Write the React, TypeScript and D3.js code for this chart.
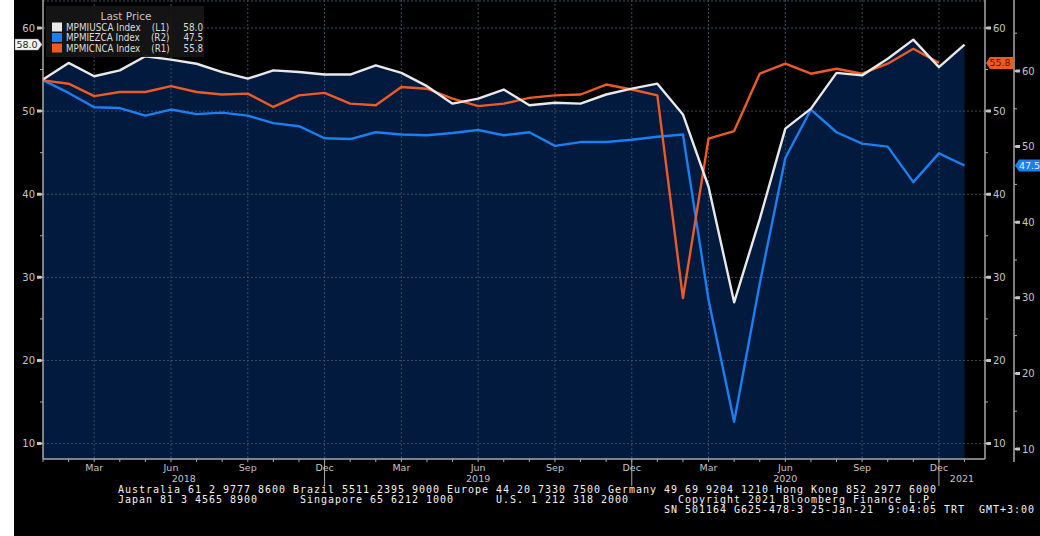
import React from "react";
import * as d3 from "d3";

// Monthly data Jan 2018 .. Jan 2021
const startYear = 2018;
const usaComposite = [53.8, 55.8, 54.2, 54.9, 56.6, 56.2, 55.7, 54.7, 53.9, 54.9, 54.7, 54.4,
  54.4, 55.5, 54.6, 53.0, 50.9, 51.5, 52.6, 50.7, 51.0, 50.9, 52.0, 52.7,
  53.3, 49.6, 40.9, 27.0, 37.0, 47.9, 50.3, 54.6, 54.3, 56.3, 58.6, 55.3,
  58.0];
const euroComposite = [58.8, 57.1, 55.2, 55.1, 54.1, 54.9, 54.3, 54.5, 54.1, 53.1, 52.7, 51.1,
  51.0, 51.9, 51.6, 51.5, 51.8, 52.2, 51.5, 51.9, 50.1, 50.6, 50.6, 50.9,
  51.3, 51.6, 29.7, 13.6, 31.9, 48.5, 54.9, 51.9, 50.4, 50.0, 45.3, 49.1,
  47.5];
const chinaComposite = [53.7, 53.3, 51.8, 52.3, 52.3, 53.0, 52.3, 52.0, 52.1, 50.5, 51.9, 52.2,
  50.9, 50.7, 52.9, 52.7, 51.5, 50.6, 50.9, 51.6, 51.9, 52.0, 53.2, 52.6,
  51.9, 27.5, 46.7, 47.6, 54.5, 55.7, 54.5, 55.1, 54.5, 55.7, 57.5, 55.8];

const seriesNames = ["MPMIUSCA Index", "MPMIEZCA Index", "MPMICNCA Index"];
const seriesAxes = ["(L1)", "(R2)", "(R1)"];
const seriesLast = ["58.0", "47.5", "55.8"];
const monthNames = ["Jan", "Feb", "Mar", "Apr", "May", "Jun", "Jul", "Aug", "Sep", "Oct", "Nov", "Dec"];
const majorTicks = [10, 20, 30, 40, 50, 60];
const minorTicksL = [15, 25, 35, 45, 55];
const minorTicksR2 = [15, 25, 35, 45, 55, 65];
const footerLines = [
  "Australia 61 2 9777 8600 Brazil 5511 2395 9000 Europe 44 20 7330 7500 Germany 49 69 9204 1210 Hong Kong 852 2977 6000",
  "Japan 81 3 4565 8900      Singapore 65 6212 1000      U.S. 1 212 318 2000       Copyright 2021 Bloomberg Finance L.P.",
  "                                                                              SN 501164 G625-478-3 25-Jan-21  9:04:05 TRT  GMT+3:00",
];

const WHITE = "#e9e9e9";
const BLUE = "#1a7ff0";
const ORANGE = "#ec5b24";
const NAVY = "#011a3e";
const AXIS = "#a8a8a8";
const LABEL = "#c4c4c4";
const GRID = "#3d4c5e";

export default function App() {
  const left = 43, right = 985, r2x = 1014, top = 0, bottom = 459;
  const x = d3.scaleLinear().domain([0, 36.8]).range([left, right]);
  const yL = d3.scaleLinear().domain([10, 60]).range([443.6, 28]);
  const yR2 = d3.scaleLinear().domain([10, 60]).range([449, 71]);

  const lineL = d3.line<number>().x((_, i) => x(i)).y((d) => yL(d));
  const lineR2 = d3.line<number>().x((_, i) => x(i)).y((d) => yR2(d));
  const area = d3.area<number>().x((_, i) => x(i)).y0(bottom).y1((d) => yL(d));

  const nMonths = 37;
  const months = d3.range(nMonths);
  const quarterMonths = months.filter((i) => i % 3 === 2);
  const yearBreaks = months.filter((i) => i % 12 === 11);
  const years = [0, 1, 2, 3].map((k) => {
    const a = k === 0 ? 0 : 12 * k - 1;
    const b = Math.min(12 * k + 11, 36.8);
    return { label: String(startYear + k), cx: (x(a) + x(b)) / 2 };
  });

  const font = "'DejaVu Sans', sans-serif";
  const legendColors = [WHITE, BLUE, ORANGE];

  return (
    <svg width={1040} height={536} style={{ position: "absolute", left: 0, top: 0 }} fontFamily={font}>
      <rect x={0} y={0} width={1040} height={536} fill="#ffffff" />
      <rect x={14} y={0} width={1026} height={536} fill="#000000" />

      {/* area under US line */}
      <path d={area(usaComposite) || ""} fill={NAVY} />

      {/* grid */}
      <line x1={left} x2={right} y1={1} y2={1} stroke={GRID} strokeDasharray="2,2" />
      {majorTicks.map((t) => (
        <line key={"hg" + t} x1={left} x2={right} y1={yL(t)} y2={yL(t)} stroke={GRID} strokeDasharray="2,2" />
      ))}
      {quarterMonths.map((i) => (
        <line key={"vg" + i} x1={x(i)} x2={x(i)} y1={top} y2={bottom} stroke={GRID} strokeDasharray="2,2" />
      ))}

      {/* series */}
      <path d={lineR2(euroComposite) || ""} fill="none" stroke={BLUE} strokeWidth={2.4} strokeLinejoin="round" />
      <path d={lineL(chinaComposite) || ""} fill="none" stroke={ORANGE} strokeWidth={2.4} strokeLinejoin="round" />
      <path d={lineL(usaComposite) || ""} fill="none" stroke={WHITE} strokeWidth={2.4} strokeLinejoin="round" />

      {/* axes lines */}
      <line x1={left} x2={left} y1={top} y2={bottom} stroke={AXIS} strokeWidth={1.5} />
      <line x1={left} x2={right} y1={bottom} y2={bottom} stroke={AXIS} strokeWidth={1.5} />
      <line x1={right} x2={right} y1={top} y2={bottom} stroke={AXIS} strokeWidth={1.5} />
      <line x1={r2x} x2={r2x} y1={top} y2={462} stroke={AXIS} strokeWidth={1.5} />

      {/* left axis L1 */}
      {majorTicks.map((t) => (
        <g key={"l" + t}>
          <path d={`M${left - 6},${yL(t) - 1.5}L${left - 2},${yL(t) - 1.5}L${left},${yL(t)}L${left - 2},${yL(t) + 1.5}L${left - 6},${yL(t) + 1.5}Z`} fill={LABEL} />
          <text x={left - 8} y={yL(t)} dy="0.35em" textAnchor="end" fontSize={10} fill={LABEL}>{t}</text>
        </g>
      ))}
      {minorTicksL.map((t) => (
        <line key={"lm" + t} x1={left - 3} x2={left} y1={yL(t)} y2={yL(t)} stroke={AXIS} />
      ))}

      {/* right axis R1 */}
      {majorTicks.map((t) => (
        <g key={"r1" + t}>
          <path d={`M${right},${yL(t)}L${right + 2},${yL(t) - 1.5}L${right + 6},${yL(t) - 1.5}L${right + 6},${yL(t) + 1.5}L${right + 2},${yL(t) + 1.5}Z`} fill={LABEL} />
          <text x={right + 8} y={yL(t)} dy="0.35em" fontSize={10} fill={LABEL}>{t}</text>
        </g>
      ))}
      {minorTicksL.map((t) => (
        <line key={"r1m" + t} x1={right} x2={right + 3} y1={yL(t)} y2={yL(t)} stroke={AXIS} />
      ))}

      {/* right axis R2 */}
      {majorTicks.map((t) => (
        <g key={"r2" + t}>
          <path d={`M${r2x},${yR2(t)}L${r2x + 2},${yR2(t) - 1.5}L${r2x + 6},${yR2(t) - 1.5}L${r2x + 6},${yR2(t) + 1.5}L${r2x + 2},${yR2(t) + 1.5}Z`} fill={LABEL} />
          <text x={r2x + 8} y={yR2(t)} dy="0.35em" fontSize={10} fill={LABEL}>{t}</text>
        </g>
      ))}
      {minorTicksR2.map((t) => (
        <line key={"r2m" + t} x1={r2x} x2={r2x + 3} y1={yR2(t)} y2={yR2(t)} stroke={AXIS} />
      ))}

      {/* bottom axis */}
      {months.map((i) => (
        <line key={"bt" + i} x1={x(i)} x2={x(i)} y1={bottom} y2={bottom + 3} stroke={AXIS} />
      ))}
      {yearBreaks.map((i) => (
        <line key={"yb" + i} x1={x(i)} x2={x(i)} y1={bottom} y2={bottom + 27} stroke={AXIS} />
      ))}
      {quarterMonths.map((i) => (
        <text key={"ml" + i} x={x(i)} y={471} textAnchor="middle" fontSize={9.5} fill={LABEL}>{monthNames[i % 12]}</text>
      ))}
      {years.map((yv) => (
        <text key={"yl" + yv.label} x={yv.cx} y={482} textAnchor="middle" fontSize={9.5} fill={LABEL}>{yv.label}</text>
      ))}

      {/* last-value tags */}
      <path d={`M15,${yL(58) - 5.5}H38L${left - 1},${yL(58)}L38,${yL(58) + 5.5}H15Z`} fill="#f4f4f4" stroke="#888" strokeWidth={0.5} />
      <text x={27} y={yL(58)} dy="0.35em" textAnchor="middle" fontSize={9.5} fill="#222">58.0</text>
      <path d={`M${right + 1},${yL(55.8)}L${right + 5},${yL(55.8) - 6}H1014V${yL(55.8) + 6}H${right + 5}Z`} fill={ORANGE} />
      <text x={1000} y={yL(55.8)} dy="0.35em" textAnchor="middle" fontSize={9.5} fill="#5a1500">55.8</text>
      <path d={`M${r2x + 1},${yR2(47.5)}L${r2x + 5},${yR2(47.5) - 6}H1040V${yR2(47.5) + 6}H${r2x + 5}Z`} fill={BLUE} />
      <text x={1019} y={yR2(47.5)} dy="0.35em" fontSize={9.5} fill="#e8f0ff">47.5</text>

      {/* legend */}
      <rect x={46} y={6} width={158} height={51} fill="#161616" opacity={0.92} />
      <text x={126} y={20} textAnchor="middle" fontSize={10.5} fill={LABEL}>Last Price</text>
      {seriesNames.map((name, k) => {
        const cy = 27 + k * 10.5;
        return (
          <g key={name}>
            <rect x={52} y={cy - 4.5} width={10} height={9} fill={legendColors[k]} />
            <text x={66} y={cy} dy="0.35em" fontSize={10.5} fill="#dcdcdc" textLength={137}
              lengthAdjust="spacingAndGlyphs" style={{ whiteSpace: "pre" }}>
              {`${name}    ${seriesAxes[k]}     ${seriesLast[k]}`}
            </text>
          </g>
        );
      })}

      {/* footer */}
      {footerLines.map((line, k) => (
        <text key={"f" + k} x={118} y={493 + k * 10} fontSize={10} letterSpacing={0.98} fill="#f2f2f2"
          fontFamily="'DejaVu Sans Mono', monospace" style={{ whiteSpace: "pre" }}>{line}</text>
      ))}
    </svg>
  );
}
